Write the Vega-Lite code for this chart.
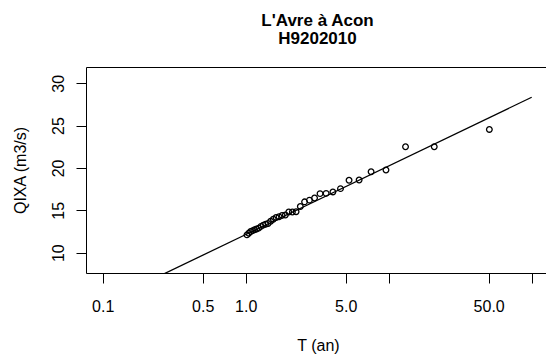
{
  "$schema": "https://vega.github.io/schema/vega-lite/v6.json",
  "width": 460,
  "height": 206,
  "autosize": {"type": "none"},
  "padding": {"left": 86, "top": 67, "right": 0, "bottom": 89},
  "background": "white",
  "config": {
    "view": {"stroke": null},
    "font": "Liberation Sans",
    "axis": {
      "domainColor": "black", "domainWidth": 1, "tickColor": "black", "tickWidth": 1,
      "labelColor": "black", "titleColor": "black", "labelFont": "Liberation Sans", "titleFont": "Liberation Sans",
      "labelFontSize": 16, "titleFontSize": 16, "titleFontWeight": "normal", "grid": false
    }
  },
  "title": {
    "text": ["L'Avre à Acon", "H9202010"],
    "font": "Liberation Sans", "fontSize": 17, "fontWeight": "bold", "color": "black",
    "lineHeight": 18.5, "anchor": "middle", "offset": 19, "dx": 1.5
  },
  "datasets": {
    "obs": [
      {"T": 50.57, "Q": 24.55},
      {"T": 20.82, "Q": 22.5},
      {"T": 13.11, "Q": 22.5},
      {"T": 9.57, "Q": 19.76},
      {"T": 7.53, "Q": 19.55},
      {"T": 6.21, "Q": 18.58},
      {"T": 5.28, "Q": 18.55},
      {"T": 4.6, "Q": 17.56},
      {"T": 4.07, "Q": 17.17},
      {"T": 3.65, "Q": 17.0},
      {"T": 3.31, "Q": 16.97},
      {"T": 3.03, "Q": 16.45},
      {"T": 2.79, "Q": 16.2},
      {"T": 2.58, "Q": 16.0},
      {"T": 2.41, "Q": 15.45},
      {"T": 2.25, "Q": 14.84},
      {"T": 2.12, "Q": 14.8},
      {"T": 2.0, "Q": 14.8},
      {"T": 1.893, "Q": 14.45},
      {"T": 1.797, "Q": 14.4},
      {"T": 1.71, "Q": 14.25},
      {"T": 1.631, "Q": 14.15},
      {"T": 1.559, "Q": 13.95},
      {"T": 1.494, "Q": 13.7},
      {"T": 1.433, "Q": 13.45},
      {"T": 1.377, "Q": 13.35},
      {"T": 1.326, "Q": 13.25},
      {"T": 1.278, "Q": 13.1},
      {"T": 1.233, "Q": 12.9},
      {"T": 1.192, "Q": 12.8},
      {"T": 1.153, "Q": 12.7},
      {"T": 1.117, "Q": 12.6},
      {"T": 1.083, "Q": 12.5},
      {"T": 1.05, "Q": 12.3},
      {"T": 1.02, "Q": 12.1}
    ],
    "fit": [
      {"T": 0.2, "Q": 6.47},
      {"T": 100, "Q": 28.35}
    ]
  },
  "layer": [
    {
      "data": {"name": "obs"},
      "mark": {"type": "point", "shape": "circle", "filled": false, "stroke": "black", "strokeWidth": 1.3, "size": 32, "opacity": 1},
      "encoding": {
        "x": {
          "field": "T", "type": "quantitative",
          "scale": {"type": "log", "domain": [0.07638, 125.9], "nice": false},
          "axis": {
            "orient": "bottom", "values": [0.1, 0.5, 1, 5, 10, 50, 100],
            "labelExpr": "datum.value == 10 || datum.value == 100 ? '' : format(datum.value, '.1f')",
            "tickSize": 10, "labelPadding": 15, "labelBaseline": "top", "labelFlush": false, "labelOverlap": false,
            "title": "T (an)", "titleX": 232, "titleY": 72, "titleBaseline": "middle", "titleAnchor": "middle"
          }
        },
        "y": {
          "field": "Q", "type": "quantitative",
          "scale": {"domain": [7.6, 31.92], "nice": false, "zero": false},
          "axis": {
            "values": [10, 15, 20, 25, 30], "tickSize": 10, "labelPadding": 13,
            "labelAngle": 270, "labelAlign": "center", "labelBaseline": "alphabetic", "labelFlush": false,
            "title": "QIXA (m3/s)", "titleX": -66, "titleY": 103, "titleAngle": 270,
            "titleAlign": "center", "titleBaseline": "middle", "titleAnchor": "middle"
          }
        }
      }
    },
    {
      "data": {"name": "fit"},
      "mark": {"type": "line", "color": "black", "strokeWidth": 1.3, "clip": true},
      "encoding": {
        "x": {
          "field": "T", "type": "quantitative",
          "scale": {"type": "log", "domain": [0.07638, 125.9], "nice": false},
          "axis": {"orient": "top", "ticks": false, "labels": false, "title": null, "domain": true}
        },
        "y": {"field": "Q", "type": "quantitative", "scale": {"domain": [7.6, 31.92], "nice": false, "zero": false}}
      }
    }
  ],
  "resolve": {"axis": {"x": "independent"}}
}
